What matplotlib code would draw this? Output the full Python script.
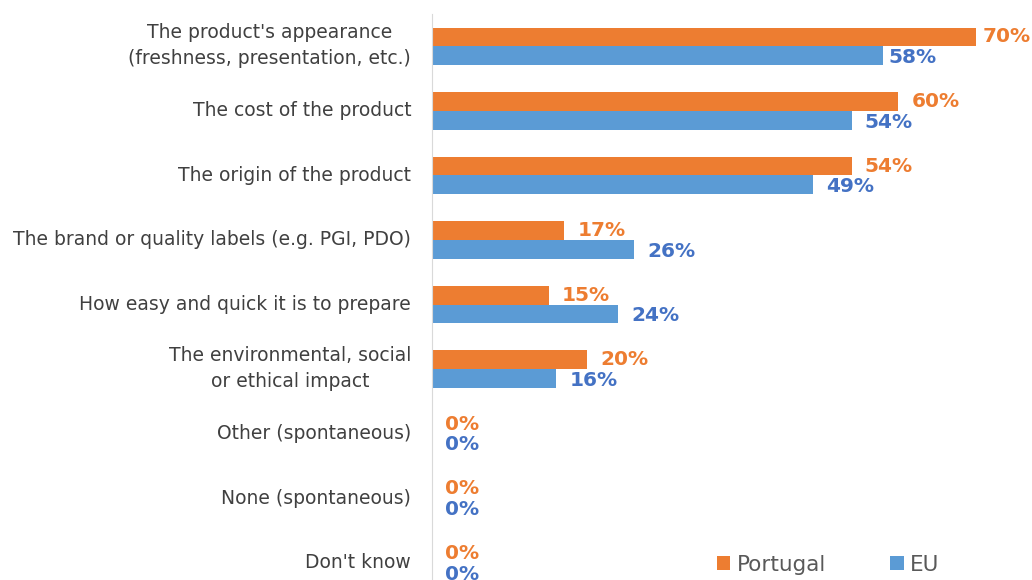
import numpy as np
import matplotlib.pyplot as plt
import matplotlib.transforms as mtrans

plt.rcParams['font.family'] = ['DejaVu Sans']

categories = [
    "The product's appearance\n(freshness, presentation, etc.)",
    "The cost of the product",
    "The origin of the product",
    "The brand or quality labels (e.g. PGI, PDO)",
    "How easy and quick it is to prepare",
    "The environmental, social\nor ethical impact",
    "Other (spontaneous)",
    "None (spontaneous)",
    "Don't know",
]
portugal = [70, 60, 54, 17, 15, 20, 0, 0, 0]
eu = [58, 54, 49, 26, 24, 16, 0, 0, 0]

c_pt_bar = '#ED7D31'
c_eu_bar = '#5B9BD5'
c_pt_txt = '#ED7D31'
c_eu_txt = '#4472C4'

fig = plt.figure(figsize=(10.32, 5.8), dpi=100)
# axes runs off the bottom edge like the cropped original
ax = fig.add_axes([432 / 1032, -15 / 580, 600 / 1032, 581 / 580])

y = np.arange(len(categories))
h = 0.29
ax.barh(y - h / 2, portugal, height=h, color=c_pt_bar, label='Portugal')
ax.barh(y + h / 2, eu, height=h, color=c_eu_bar, label='EU')

for i in range(len(categories)):
    # top row labels sit closer to the bars (no room at the right edge)
    off = 4.5 if i == 0 else 9.5
    ax.annotate(f'{portugal[i]}%', (portugal[i], y[i] - h / 2), xytext=(off, 0),
                textcoords='offset points', va='center', ha='left',
                color=c_pt_txt, fontsize=14.5, fontweight='bold')
    ax.annotate(f'{eu[i]}%', (eu[i], y[i] + h / 2 + 0.03), xytext=(off, 0),
                textcoords='offset points', va='center', ha='left',
                color=c_eu_txt, fontsize=14.5, fontweight='bold')

ax.set_xlim(0, 600 / 7.77)
ax.set_ylim(len(categories) - 0.5, -0.5)
ax.set_yticks(y)
ax.set_yticklabels(categories, fontsize=13.5, color='#404040',
                   multialignment='center', linespacing=1.45)
ax.tick_params(axis='y', length=0, pad=15)
ax.set_xticks([])
for s in ['top', 'right', 'bottom']:
    ax.spines[s].set_visible(False)
ax.spines['left'].set_color('#D9D9D9')

# nudge labels up a little, two-line ones a bit more
for lab in ax.get_yticklabels():
    dy = 6 if '\n' in lab.get_text() else 2
    lab.set_transform(lab.get_transform() +
                      mtrans.ScaledTranslation(0, dy / 100, fig.dpi_scale_trans))

fig.legend(loc='center', bbox_to_anchor=(828 / 1032, 1 - 565 / 580), ncol=2,
           frameon=False, fontsize=15.5, labelcolor='#595959',
           handlelength=0.62, handleheight=0.62, handletextpad=0.3, columnspacing=3.0)

fig.savefig('out.png', dpi=100)
